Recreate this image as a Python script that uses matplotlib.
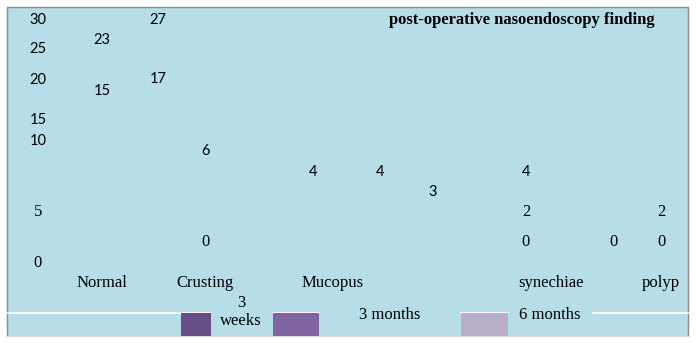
import matplotlib
matplotlib.use("Agg")
import matplotlib.pyplot as plt
from matplotlib.patches import Rectangle

# ---- data (as printed in the reference) ----
axis_ticks = ["30", "25", "20", "15", "10", "5", "0"]
categories = ["Normal", "Crusting", "Mucopus", "synechiae", "polyp"]
value_labels = ["23", "15", "27", "17", "6", "0", "4", "4", "3", "4", "2", "0", "0", "2", "0"]
series_names = ["3\nweeks", "3 months", "6 months"]
title = "post-operative nasoendoscopy finding"

# ---- layout (pixel positions of the floating labels) ----
W, H = 697, 343
tick_x = 38
tick_y = [20, 49, 80, 120, 141, 212, 263]
val_x = [102, 102, 158, 158, 205, 205, 313, 380, 433, 526, 526, 526, 614, 661, 661]
val_y = [40, 91, 20, 79, 151, 242, 172, 172, 192, 172, 212, 242, 242, 212, 242]
cat_x = [102, 205, 333, 551, 661]
cat_y = 283
leg_patch_x = [(181, 211), (273, 319), (461, 508)]
leg_text_xy = [(241, 312), (390, 315), (550, 315)]
leg_colors = ["#674f85", "#8064a2", "#b9aec9"]
line_segs = [(8, 210), (273, 319), (461, 508), (593, 688)]

BG = "#b7dde8"
SANS = ["Lato", "DejaVu Sans"]
SERIF = ["Liberation Serif", "DejaVu Serif"]

fig = plt.figure(figsize=(W / 100, H / 100), dpi=100)
fig.patch.set_facecolor("white")
ax = fig.add_axes([0, 0, 1, 1])
ax.set_xlim(0, W)
ax.set_ylim(H, 0)
ax.axis("off")

ax.add_patch(Rectangle((7, 7), 681, 329, facecolor=BG, edgecolor="none", zorder=0))
ax.plot([7, 7, 688, 688], [336, 7, 7, 336], color="#8a8a8a", lw=1.0, zorder=1)
ax.plot([7, 688], [336, 336], color="#d6dfe3", lw=1.0, zorder=1)

for (a, b) in line_segs:
    ax.plot([a, b], [313, 313], color="white", lw=1.2, zorder=1)

for (a, b), c in zip(leg_patch_x, leg_colors):
    ax.add_patch(Rectangle((a, 313), b - a, 22.5, facecolor=c, edgecolor="none", zorder=2))

for t, y in zip(axis_ticks, tick_y):
    fam, fs = (SANS, 10.5) if y < 200 else (SERIF, 12)
    ax.text(tick_x, y, t, ha="center", va="center", fontsize=fs, family=fam, color="black")

for t, x, y in zip(value_labels, val_x, val_y):
    fam, fs = (SANS, 10.5) if y < 200 else (SERIF, 12)
    ax.text(x, y, t, ha="center", va="center", fontsize=fs, family=fam, color="black")

for t, x in zip(categories, cat_x):
    ax.text(x, cat_y, t, ha="center", va="center", fontsize=12, family=SERIF, color="black")

for t, (x, y) in zip(series_names, leg_text_xy):
    ax.text(x, y, t, ha="center", va="center", fontsize=12, family=SERIF, color="black",
            linespacing=1.1)

ax.text(522, 20, title, ha="center", va="center", fontsize=12, family=SERIF,
        fontweight="bold", color="black")

fig.savefig("out.png", dpi=100, facecolor="white")
